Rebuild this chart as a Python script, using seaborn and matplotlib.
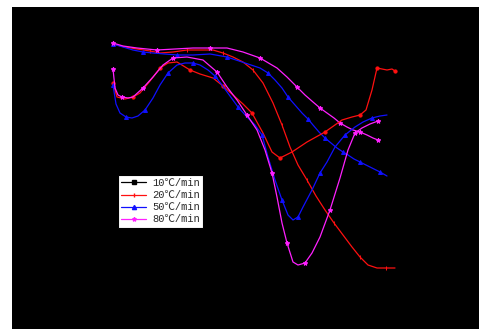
import matplotlib
matplotlib.use("Agg")
import matplotlib.pyplot as plt
import seaborn as sns
from matplotlib.lines import Line2D

sns.set_theme(style="white")

# ---- data (x: temperature axis position, y: signal; axes are unlabeled in the reference) ----
labels = ["10\u2103/min", "20\u2103/min", "50\u2103/min", "80\u2103/min"]

red_tg_x = [113, 125, 137, 150, 160, 173, 187, 200, 213, 223, 233, 243, 253, 263, 273, 282, 290, 298, 307, 316, 325, 334, 343, 352, 360, 368, 377, 386, 395]
red_tg_y = [44, 47, 49, 51, 53, 52, 50, 50, 50, 53, 57, 62, 70, 83, 103, 125, 147, 165, 180, 196, 210, 223, 235, 247, 257, 265, 268, 268, 268]

blue_tg_x = [113, 123, 133, 143, 153, 165, 177, 193, 210, 227, 245, 260, 268, 275, 282, 288, 295, 302, 308, 313, 319, 325, 331, 337, 343, 348, 354, 360, 366, 372, 380, 387]
blue_tg_y = [44, 47, 50, 52, 53, 54, 55, 55, 54, 57, 63, 68, 73, 80, 88, 97, 105, 113, 119, 125, 132, 138, 143, 148, 152, 155, 159, 162, 165, 168, 172, 176]

mag_tg_x = [113, 123, 137, 157, 175, 193, 210, 227, 243, 260, 277, 287, 297, 305, 313, 320, 327, 334, 340, 347, 353, 360, 367, 373, 378]
mag_tg_y = [43, 46, 48, 50, 49, 48, 48, 48, 52, 58, 68, 77, 87, 95, 102, 108, 113, 118, 123, 127, 130, 132, 135, 138, 140]

red_dtg_x = [113, 117, 125, 133, 140, 150, 160, 168, 177, 190, 200, 213, 223, 233, 243, 252, 263, 272, 280, 292, 307, 325, 342, 352, 360, 366, 372, 377, 387, 392, 395]
red_dtg_y = [83, 97, 99, 97, 93, 81, 68, 63, 62, 70, 74, 78, 86, 95, 104, 113, 133, 152, 158, 152, 142, 132, 120, 117, 115, 110, 90, 68, 70, 69, 71]

blue_dtg_x = [113, 116, 120, 126, 132, 138, 145, 153, 160, 168, 177, 185, 193, 200, 208, 215, 222, 230, 238, 247, 255, 262, 268, 275, 282, 288, 293, 298, 303, 312, 320, 327, 335, 345, 355, 363, 372, 380, 387]
blue_dtg_y = [85, 104, 113, 117, 118, 116, 110, 98, 85, 73, 65, 63, 63, 65, 70, 76, 85, 96, 107, 117, 125, 135, 157, 180, 200, 215, 220, 217, 207, 190, 173, 162, 147, 135, 127, 122, 118, 116, 115]

mag_dtg_x = [113, 115, 118, 122, 128, 133, 143, 153, 163, 173, 187, 203, 217, 227, 237, 247, 257, 265, 272, 277, 282, 287, 293, 298, 305, 312, 320, 330, 340, 348, 355, 362, 370, 378]
mag_dtg_y = [69, 88, 95, 97, 98, 97, 88, 77, 65, 58, 57, 60, 72, 87, 100, 115, 130, 150, 173, 197, 223, 243, 262, 265, 263, 253, 237, 210, 178, 150, 133, 128, 124, 121]

colors = ["black", "#ff1010", "#1010ff", "#ff20ff"]
markers = ["s", "|", "^", "*"]

fig = plt.figure(figsize=(4.79, 3.29), dpi=100, facecolor="white")
ax = fig.add_axes([12 / 479, 0, 467 / 479, 322 / 329])
ax.set_facecolor("black")

lw = 0.9
series = [
    (red_tg_x, red_tg_y, colors[1], "|", 3),
    (blue_tg_x, blue_tg_y, colors[2], "^", 2.8),
    (mag_tg_x, mag_tg_y, colors[3], "*", 3.2),
    (red_dtg_x, red_dtg_y, colors[1], "o", 2.3),
    (blue_dtg_x, blue_dtg_y, colors[2], "^", 2.8),
    (mag_dtg_x, mag_dtg_y, colors[3], "*", 3.2),
]
for xs, ys, c, m, ms in series:
    sns.lineplot(x=xs, y=ys, ax=ax, color=c, linewidth=lw, marker=m,
                 markersize=ms, markeredgecolor=c, markerfacecolor=c,
                 markevery=3, sort=False, estimator=None, legend=False)

ax.set_xlim(12, 479)
ax.set_ylim(329, 7)
ax.set_xticks([])
ax.set_yticks([])
for s in ax.spines.values():
    s.set_visible(False)

handles = [Line2D([0], [0], color=c, marker=m, markersize=3, linewidth=0.9,
                  markeredgecolor=c, markerfacecolor=c)
           for c, m in zip(colors, markers)]
leg = fig.legend(handles, labels, loc="upper left",
                 bbox_to_anchor=(118 / 479, 1 - 175 / 329),
                 frameon=True, fancybox=False, framealpha=1,
                 prop={"family": ["Liberation Mono", "Noto Sans CJK SC"], "size": 7.5},
                 handlelength=2.4, handletextpad=0.6, borderpad=0.3,
                 labelspacing=0.2, borderaxespad=0)
leg.get_frame().set_edgecolor("black")
leg.get_frame().set_linewidth(0.8)
leg.get_frame().set_facecolor("white")

fig.savefig("out.png", dpi=100, facecolor="white")
